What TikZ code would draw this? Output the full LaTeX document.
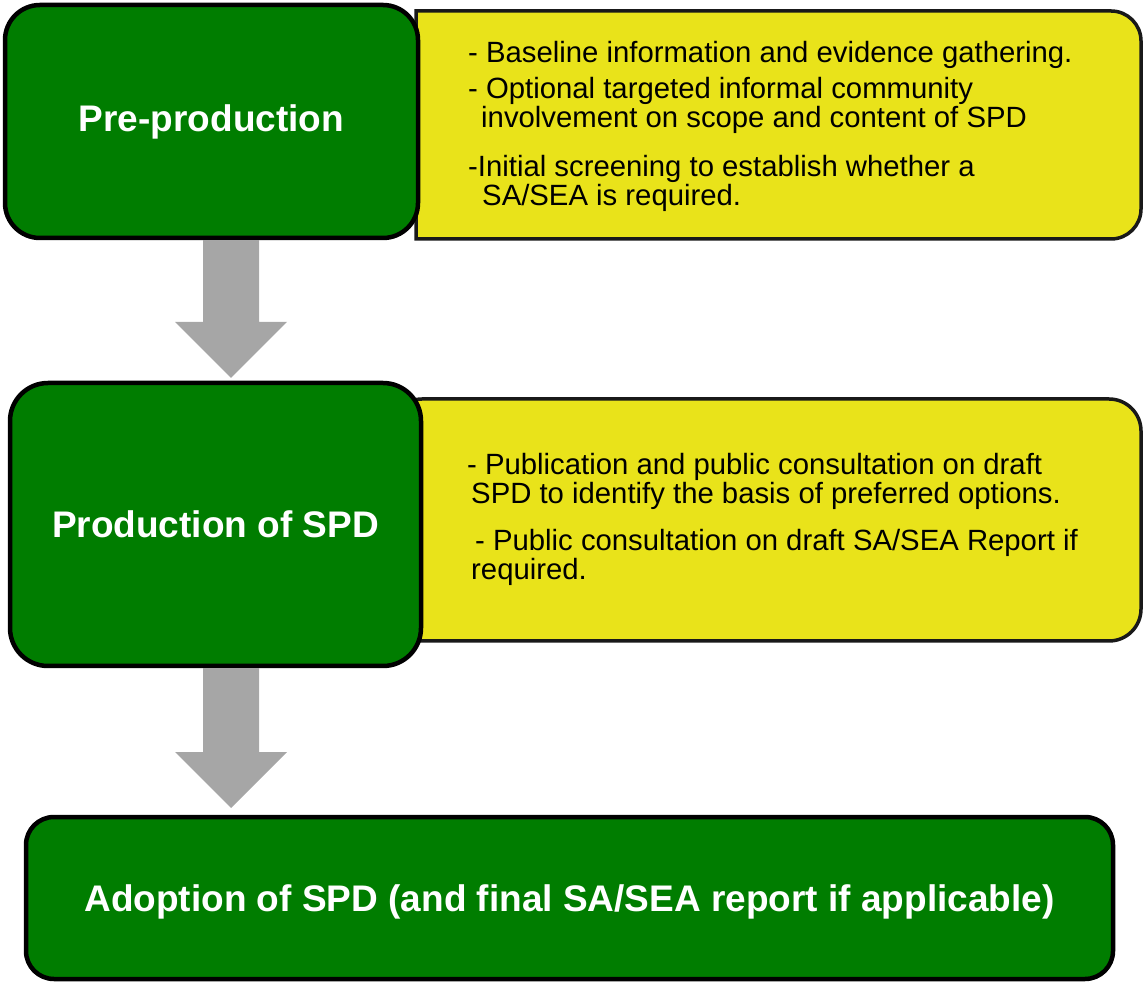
\documentclass[tikz,border=0pt]{standalone}
\usepackage{fontspec}
\setmainfont{Liberation Sans}
\usepackage{xcolor}
\usepackage{tikz}
\usetikzlibrary{positioning,calc}

\definecolor{stagegreen}{RGB}{0,125,0}
\definecolor{noteyellow}{RGB}{233,227,26}
\definecolor{arrowgray}{RGB}{166,166,166}

\tikzset{
    stage/.style={draw=black, line width=4.5pt, fill=stagegreen, text=white,
        inner sep=0pt, font=\fontsize{37}{40}\selectfont\bfseries},
    notebox/.style={draw=black!90, line width=3.5pt, fill=noteyellow},
    notetext/.style={anchor=base west, align=left, inner sep=0pt,
        font=\fontsize{29.3}{29.5}\selectfont},
    flowarrow/.style={fill=arrowgray}
}

% block arrow from the bottom of a stage down to a tip
\newcommand{\stagearrow}[2]{%
    \fill[flowarrow] ($(#2 |- #1.south)+(-28,0)$) -- ($(#2 |- #1.south)+(28,0)$)
        -- ($(#2)+(28,56)$) -- ($(#2)+(56,56)$) -- (#2) -- ($(#2)+(-56,56)$)
        -- ($(#2)+(-28,56)$) -- cycle;}

\begin{document}
\begin{tikzpicture}[x=1pt, y=1pt]
    \useasboundingbox (0,0) rectangle (1145,983);

    % Notes
    \draw[notebox] (416,744) -- (416,972) -- (1111,972) arc[start angle=90, end angle=0, radius=30]
        -- (1141,774) arc[start angle=0, end angle=-90, radius=30] -- cycle;
    \draw[notebox, rounded corners=32pt] (390,342) rectangle (1141,584);

    % Stages
    \node[stage, minimum width=413pt, minimum height=233pt, rounded corners=35pt] (pre) at (211.5,861.5) {Pre-production};
    \node[stage, minimum width=411pt, minimum height=283pt, rounded corners=38pt] (prod) at (215.5,458.5) {Production of SPD};
    \node[stage, minimum width=1087pt, minimum height=162pt, rounded corners=28pt, text height=27pt, text depth=0pt] (adopt) at (569.5,85) {Adoption of SPD (and final SA/SEA report if applicable)};

    % Arrows
    \coordinate (tip1) at (231,605);
    \coordinate (tip2) at (231,175);
    \stagearrow{pre}{tip1}
    \stagearrow{prod}{tip2}

    % Note texts (base = last line)
    \node[notetext] (baseline) at (468,920.3) {- Baseline information and evidence gathering.};
    \node[notetext] (optional) at (468,855) {- Optional targeted informal community\\\hspace*{13pt}involvement on scope and content of SPD};
    \node[notetext] (screening) at (468,777.3) {-Initial screening to establish whether a\\\hspace*{14pt}SA/SEA is required.};
    \node[notetext] (publication) at (467,479) {- Publication and public consultation on draft\\\hspace*{4pt}SPD to identify the basis of preferred options.};
    \node[notetext] (consultation) at (471,403) {\hspace*{4pt}- Public consultation on draft SA/SEA Report if\\required.};
\end{tikzpicture}
\end{document}
